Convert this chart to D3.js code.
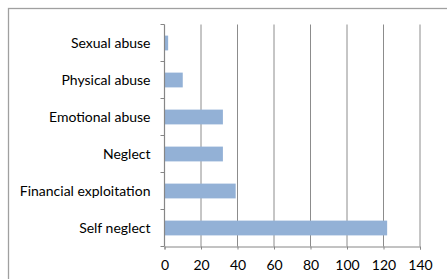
<!DOCTYPE html>
<html>
<head>
<meta charset="utf-8">
<script src="https://cdn.jsdelivr.net/npm/d3@7"></script>
<style>
  body { margin: 0; background: #fff; }
  svg text { font-family: Lato, "Open Sans", sans-serif; fill: #000; }
</style>
</head>
<body>
<div id="chart"></div>
<script>
// Data
var categories = ["Sexual abuse", "Physical abuse", "Emotional abuse", "Neglect", "Financial exploitation", "Self neglect"];
var counts = [2, 10, 32, 32, 39, 122];
var xTicks = [0, 20, 40, 60, 80, 100, 120, 140];

var width = 447, height = 279;
var margin = {top: 24.5, right: 27, bottom: 32.5, left: 164.5};

var svg = d3.select("#chart").append("svg")
  .attr("width", width)
  .attr("height", height);

// Outer frame (runs off the right and bottom edge)
svg.append("rect")
  .attr("x", 8.5).attr("y", 8.5)
  .attr("width", width).attr("height", height)
  .attr("fill", "none")
  .attr("stroke", "#a0a0a0")
  .attr("stroke-width", 1.3);

var x = d3.scaleLinear()
  .domain([0, 140])
  .range([margin.left, width - margin.right]);

var y = d3.scaleBand()
  .domain(categories)
  .range([margin.top, height - margin.bottom])
  .paddingInner(0.6)
  .paddingOuter(0.3);

var plotBottom = height - margin.bottom;

// Vertical gridlines
svg.selectAll(".grid")
  .data(xTicks.slice(1))
  .enter().append("line")
  .attr("class", "grid")
  .attr("x1", function(d) { return x(d); })
  .attr("x2", function(d) { return x(d); })
  .attr("y1", margin.top)
  .attr("y2", plotBottom)
  .attr("stroke", "#8c8c8c")
  .attr("stroke-width", 1);

// Bars
svg.selectAll(".bar")
  .data(counts)
  .enter().append("rect")
  .attr("class", "bar")
  .attr("x", x(0))
  .attr("y", function(d, i) { return y(categories[i]); })
  .attr("width", function(d) { return x(d) - x(0); })
  .attr("height", y.bandwidth())
  .attr("fill", "#93b1d6");

// X axis
var xAxis = svg.append("g")
  .attr("transform", "translate(0," + plotBottom + ")")
  .call(d3.axisBottom(x).tickValues(xTicks).tickSize(3).tickPadding(11));
xAxis.select(".domain").attr("stroke", "#868686");
xAxis.selectAll(".tick line").attr("stroke", "#868686");
xAxis.selectAll("text").style("font-size", "14px");

// Y axis with ticks between categories
var bounds = d3.range(categories.length + 1).map(function(i) {
  return margin.top + i * y.step();
});
svg.selectAll(".ytick")
  .data(bounds)
  .enter().append("line")
  .attr("class", "ytick")
  .attr("x1", x(0) - 4)
  .attr("x2", x(0))
  .attr("y1", function(d) { return d; })
  .attr("y2", function(d) { return d; })
  .attr("stroke", "#868686");
svg.append("line")
  .attr("x1", x(0)).attr("x2", x(0))
  .attr("y1", margin.top).attr("y2", plotBottom)
  .attr("stroke", "#868686")
  .attr("stroke-width", 1.2);

// Category labels
svg.selectAll(".cat")
  .data(categories)
  .enter().append("text")
  .attr("class", "cat")
  .attr("x", x(0) - 14)
  .attr("y", function(d) { return y(d) + y.bandwidth() / 2; })
  .attr("dy", "0.35em")
  .attr("text-anchor", "end")
  .style("font-size", "14px")
  .text(function(d) { return d; });
</script>
</body>
</html>
